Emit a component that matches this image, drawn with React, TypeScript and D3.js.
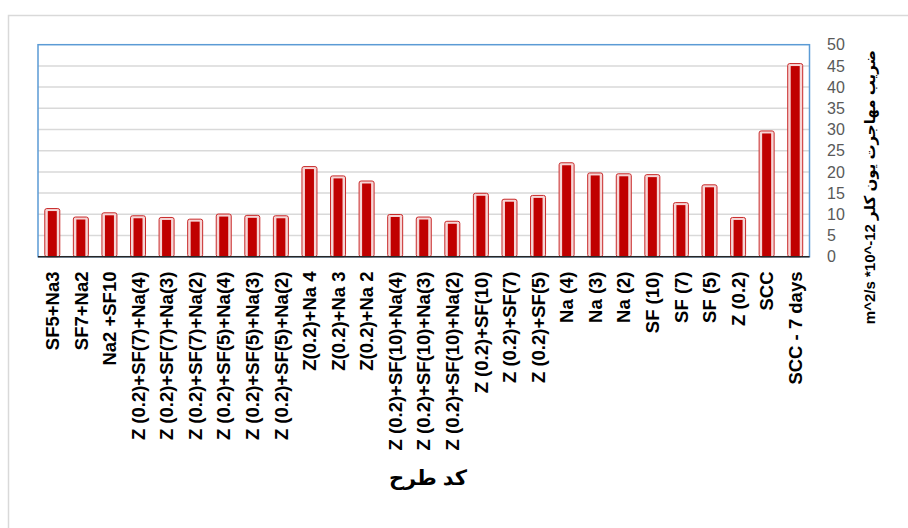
import React from "react";
import * as d3 from "d3";

const categories = [
  "SF5+Na3",
  "SF7+Na2",
  "Na2 +SF10",
  "Z (0.2)+SF(7)+Na(4)",
  "Z (0.2)+SF(7)+Na(3)",
  "Z (0.2)+SF(7)+Na(2)",
  "Z (0.2)+SF(5)+Na(4)",
  "Z (0.2)+SF(5)+Na(3)",
  "Z (0.2)+SF(5)+Na(2)",
  "Z(0.2)+Na 4",
  "Z(0.2)+Na 3",
  "Z(0.2)+Na 2",
  "Z (0.2)+SF(10)+Na(4)",
  "Z (0.2)+SF(10)+Na(3)",
  "Z (0.2)+SF(10)+Na(2)",
  "Z (0.2)+SF(10)",
  "Z (0.2)+SF(7)",
  "Z (0.2)+SF(5)",
  "Na (4)",
  "Na (3)",
  "Na (2)",
  "SF (10)",
  "SF (7)",
  "SF (5)",
  "Z (0.2)",
  "SCC",
  "SCC - 7 days",
];

const values = [
  11.0, 9.0, 10.0, 9.3, 8.9, 8.5, 9.7, 9.4, 9.3, 20.9, 18.7, 17.5, 9.6, 9.0,
  8.0, 14.6, 13.2, 14.1, 21.8, 19.4, 19.2, 19.0, 12.4, 16.6, 8.9, 29.3, 45.2,
];

const yTicks = [0, 5, 10, 15, 20, 25, 30, 35, 40, 45, 50];

const xTitle = "کد طرح";
const yTitle = "m^2/s *10^-12 ضریب مهاجرت یون کلر";

const W = 908;
const H = 528;
const plot = { left: 38, right: 809.5, top: 44.7, bottom: 256.7 };
const font = "'Liberation Sans', 'DejaVu Sans', sans-serif";

export default function App() {
  const x = d3
    .scaleBand()
    .domain(categories)
    .range([plot.left, plot.right]);
  const y = d3.scaleLinear().domain([0, 50]).range([plot.bottom, plot.top]);
  const bw = 15;

  return (
    <svg
      width={W}
      height={H}
      style={{ position: "absolute", left: 0, top: 0, background: "#fff" }}
      fontFamily={font}
    >
      {/* chart frame, only left/top edges visible */}
      <rect x={8.5} y={15.5} width={W + 20} height={H + 20} fill="#fff" stroke="#D9D9D9" strokeWidth={1.5} />

      {/* gridlines */}
      {yTicks.slice(1, -1).map((t) => (
        <line key={t} x1={plot.left} x2={plot.right} y1={y(t)} y2={y(t)} stroke="#D9D9D9" strokeWidth={1.5} />
      ))}

      {/* plot border */}
      <rect
        x={plot.left}
        y={plot.top}
        width={plot.right - plot.left}
        height={plot.bottom - plot.top}
        fill="none"
        stroke="#5B9BD5"
        strokeWidth={1.5}
      />

      {/* bars */}
      {categories.map((c, i) => {
        const cx = x(c)! + x.bandwidth() / 2;
        const top = y(values[i]);
        return (
          <g key={c}>
            <rect
              x={cx - bw / 2}
              y={top - 1.5}
              width={bw}
              height={plot.bottom - top + 1.5}
              rx={2}
              fill="#F6D6D6"
              stroke="#C82828"
              strokeWidth={1}
            />
            <rect x={cx - bw / 2 + 3} y={top + 1} width={bw - 6} height={plot.bottom - top - 1} fill="#C00000" />
          </g>
        );
      })}

      {/* baseline */}
      <line x1={plot.left} x2={plot.right} y1={plot.bottom} y2={plot.bottom} stroke="#262626" strokeWidth={1.5} />

      {/* y tick labels on the right */}
      {yTicks.map((t) => (
        <text key={t} x={827} y={y(t)} dy="0.35em" fontSize={16} fill="#595959">
          {t}
        </text>
      ))}

      {/* category labels */}
      {categories.map((c) => {
        const cx = x(c)! + x.bandwidth() / 2;
        return (
          <text
            key={c}
            transform={`translate(${cx},271.5) rotate(-90)`}
            textAnchor="end"
            dy="0.36em"
            fontSize={18.5}
            fontWeight="bold"
            fill="#000"
          >
            {c}
          </text>
        );
      })}

      {/* axis titles */}
      <text x={428} y={485} textAnchor="middle" fontSize={21} fontWeight="bold" fill="#000">
        {xTitle}
      </text>
      <text
        transform="translate(870,50) rotate(-90)"
        textAnchor="end"
        dy="0.35em"
        fontSize={15}
        fontWeight="bold"
        fill="#000"
        direction="ltr"
      >
        {yTitle}
      </text>
    </svg>
  );
}
